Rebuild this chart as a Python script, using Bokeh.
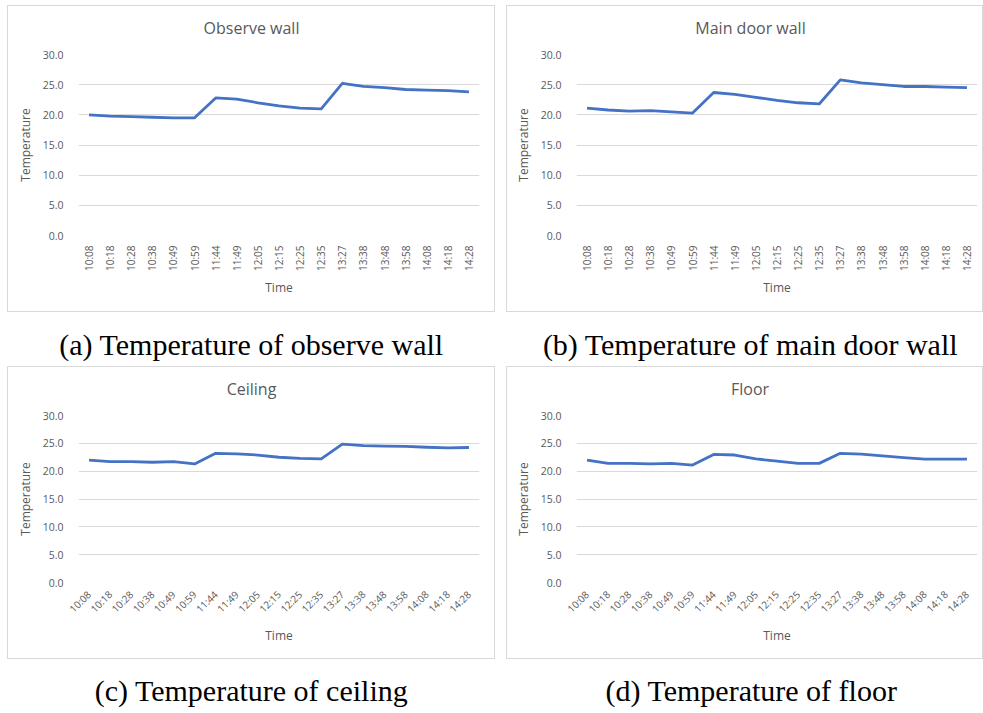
import numpy as np
from bokeh.plotting import figure
from bokeh.layouts import column, row
from bokeh.models import Spacer, PrintfTickFormatter, FixedTicker, Range1d
from bokeh.core.properties import value
from bokeh.embed import file_html
from bokeh.resources import INLINE

# ---- data ----
times = ["10:08", "10:18", "10:28", "10:38", "10:49", "10:59", "11:44", "11:49",
         "12:05", "12:15", "12:25", "12:35", "13:27", "13:38", "13:48", "13:58",
         "14:08", "14:18", "14:28"]

observe_wall = [20.0, 19.8, 19.7, 19.6, 19.5, 19.5, 22.8, 22.6, 22.0, 21.5, 21.1, 21.0,
                25.2, 24.7, 24.5, 24.2, 24.1, 24.0, 23.8]
main_door_wall = [21.1, 20.8, 20.6, 20.7, 20.5, 20.3, 23.7, 23.4, 22.9, 22.4, 22.0, 21.8,
                  25.8, 25.3, 25.0, 24.7, 24.7, 24.6, 24.5]
ceiling = [22.0, 21.7, 21.7, 21.6, 21.7, 21.3, 23.2, 23.1, 22.9, 22.5, 22.3, 22.2,
           24.85, 24.6, 24.5, 24.45, 24.3, 24.2, 24.25]
floor_temp = [22.0, 21.4, 21.4, 21.3, 21.4, 21.1, 23.0, 22.9, 22.2, 21.8, 21.4, 21.4,
              23.2, 23.05, 22.75, 22.45, 22.15, 22.15, 22.15]

y_ticks = [0, 5, 10, 15, 20, 25, 30]

titles = ["Observe wall", "Main door wall", "Ceiling", "Floor"]
captions = ["(a) Temperature of observe wall", "(b) Temperature of main door wall",
            "(c) Temperature of ceiling", "(d) Temperature of floor"]

FONT = "Open Sans"
GREY = "#595959"
LINE = "#4472C4"
HEAD_H = 40


def text_box(text, width, height, cx, cy, font, size, color, left=0, right=0):
    inner = width - left - right
    p = figure(width=width, height=height, x_range=Range1d(0, inner),
               y_range=Range1d(height, 0), output_backend="svg", toolbar_location=None,
               x_axis_location=None, y_axis_location=None,
               min_border=0, min_border_left=left, min_border_right=right,
               outline_line_color=None)
    p.grid.visible = False
    p.text(x=[cx], y=[cy], text=[text], text_align="center", text_baseline="middle",
           text_font=value(font), text_font_size=size, text_color=color)
    return p


def make_panel(values, title, width, height, left, right, bottom, title_cx, rot,
               x_label_standoff):
    head = text_box(title, width, HEAD_H, title_cx, 21, FONT, "16px", GREY,
                    left=left, right=right)
    p = figure(x_range=times, y_range=Range1d(0, 30), width=width, height=height - HEAD_H,
               output_backend="svg", toolbar_location=None,
               min_border_left=left, min_border_right=right,
               min_border_top=8, min_border_bottom=bottom)
    p.outline_line_color = None

    p.line(times, values, line_color=LINE, line_width=2.8, line_join="round")

    p.xgrid.grid_line_color = None
    p.ygrid.grid_line_color = "#d9d9d9"
    p.ygrid.grid_line_width = 1

    p.yaxis.ticker = FixedTicker(ticks=y_ticks)
    p.yaxis.formatter = PrintfTickFormatter(format="%.1f")
    for ax in (p.xaxis[0], p.yaxis[0]):
        ax.axis_line_color = None
        ax.major_tick_line_color = None
        ax.minor_tick_line_color = None
        ax.major_label_text_font = FONT
        ax.major_label_text_font_size = "10.5px"
        ax.major_label_text_color = GREY
        ax.axis_label_text_font = FONT
        ax.axis_label_text_font_size = "12px"
        ax.axis_label_text_font_style = "normal"
        ax.axis_label_text_color = GREY
    p.xaxis.major_label_text_font_size = "10px"
    p.yaxis.axis_label = "Temperature"
    p.yaxis.major_label_standoff = 9
    p.yaxis.axis_label_standoff = 6
    p.xaxis.axis_label = "Time"
    p.xaxis.major_label_orientation = rot
    p.xaxis.major_label_standoff = 4
    p.xaxis.axis_label_standoff = x_label_standoff

    panel = column(head, p, spacing=0)
    panel.styles = {"border": "1px solid #d9d9d9"}
    return panel


pa = make_panel(observe_wall, titles[0], 486, 305, 70, 15, 76, 173, np.pi / 2, 5)
pb = make_panel(main_door_wall, titles[1], 475, 305, 69, 5, 76, 174, np.pi / 2, 5)
pc = make_panel(ceiling, titles[2], 486, 291, 70, 15, 76, 173, np.pi / 4, 4)
pd = make_panel(floor_temp, titles[3], 475, 291, 69, 5, 76, 173.5, np.pi / 4, 4)

SERIF = "Liberation Serif"
cap_row1 = row(Spacer(width=7), text_box(captions[0], 488, 54, 244, 32, SERIF, "30px", "#000000"),
               Spacer(width=11),
               text_box(captions[1], 477, 54, 244, 32, SERIF, "30px", "#000000"))
cap_row2 = row(Spacer(width=7), text_box(captions[2], 488, 54, 244, 31, SERIF, "30px", "#000000"),
               Spacer(width=11),
               text_box(captions[3], 477, 54, 245, 31, SERIF, "30px", "#000000"))

layout = column(
    Spacer(height=5),
    row(Spacer(width=7), pa, Spacer(width=11), pb),
    cap_row1,
    row(Spacer(width=7), pc, Spacer(width=11), pd),
    cap_row2,
)

open("out.html", "w").write(file_html(layout, INLINE))
